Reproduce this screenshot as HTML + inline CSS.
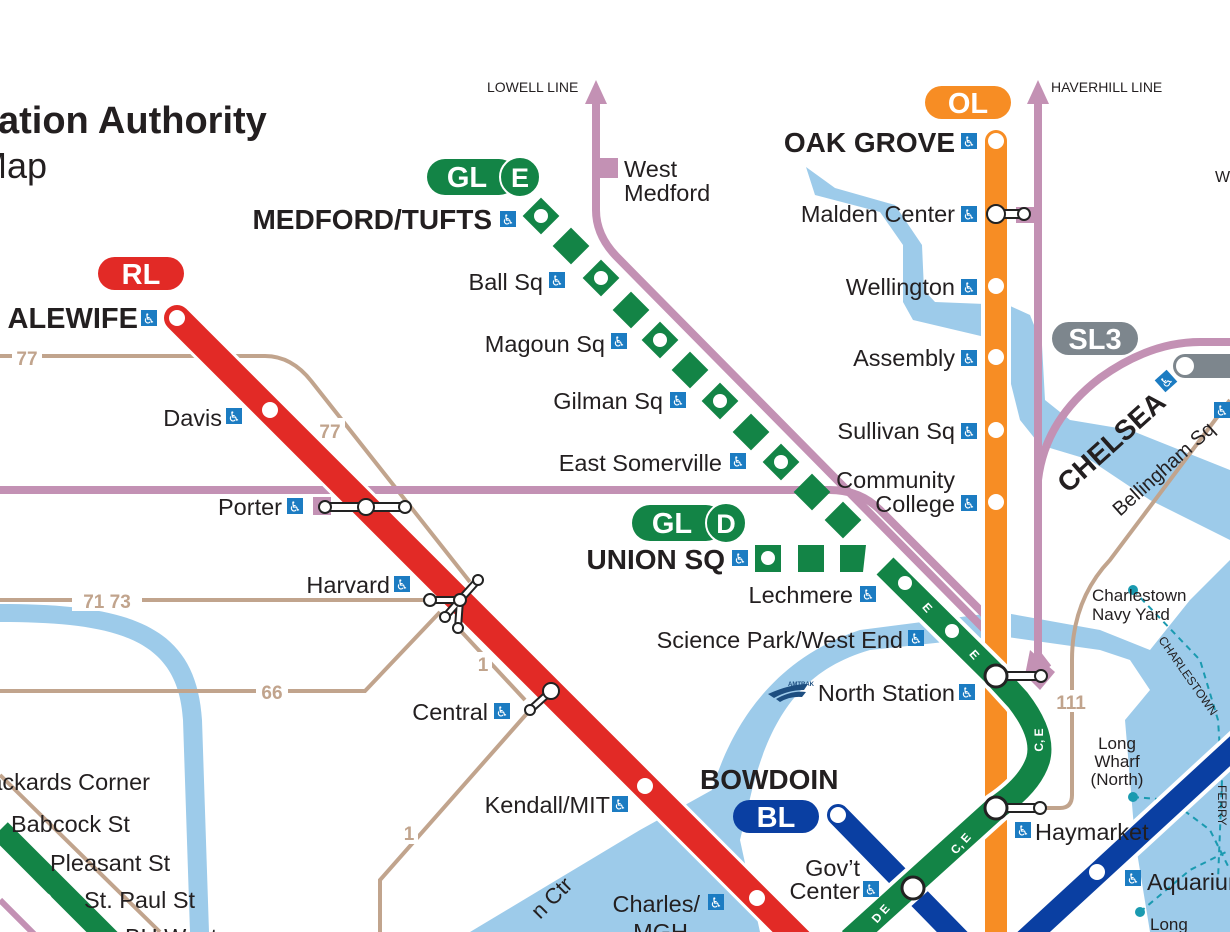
<!DOCTYPE html>
<html><head><meta charset="utf-8"><style>
html,body{margin:0;padding:0;background:#fff;}
svg{display:block;font-family:"Liberation Sans",Arial,sans-serif;}
</style></head><body>
<svg width="1230" height="932" viewBox="0 0 1230 932" xmlns="http://www.w3.org/2000/svg">
<defs>
<g id="acc"><rect width="16" height="16" fill="#1c7cc2"/><text x="8" y="13.5" font-size="14" fill="#fff" text-anchor="middle" font-family="DejaVu Sans">♿</text></g>
</defs>
<!-- water -->
<g fill="#9dcbea" stroke="none">
<path d="M806,167 L815,195 L880,212 L903,245 L903,302 L913,320 L985,337 L985,304 L935,302 L924,290 L922,245 L895,205 L835,188 Z"/>
<path d="M1008,305 L1030,315 L1042,345 L1045,400 L1070,420 L1130,430 L1230,470 L1230,540 L1150,500 L1090,460 L1040,445 L1020,420 L1010,380 Z"/>
<path d="M0,622 C120,622 178,640 183,720 L190,932 L209,932 L202,720 C196,625 130,604 0,604 Z"/>
<path d="M470,932 L640,830 L712,790 C730,730 770,660 860,630 L1000,612 L1100,630 L1150,650 L1190,600 L1230,560 L1230,932 L1150,932 L1135,840 L1125,720 L1150,690 L1130,660 L1100,650 L1000,636 L870,650 C800,670 770,720 752,790 L740,840 L760,932 Z"/>
</g>
<!-- tan bus lines -->
<g fill="none" stroke="#c1a48d" stroke-width="4">
<path d="M0,356 H265 Q292,356 312,382 L470,582"/>
<path d="M0,600 H440"/>
<path d="M0,691 H365 L440,612"/>
<path d="M458,628 L525,700"/>
<path d="M530,710 L380,880 V932"/>
<path d="M1045,808 H1060 Q1072,808 1072,795 V660 Q1072,600 1110,560 L1230,400"/>
<path d="M0,775 L160,932"/>
</g>
<g font-weight="bold" font-size="19" fill="#c1a48d" text-anchor="middle">
<rect x="12" y="345" width="30" height="22" fill="#fff"/><text x="27" y="365">77</text>
<rect x="313" y="418" width="32" height="22" fill="#fff"/><text x="330" y="438">77</text>
<rect x="72" y="589" width="70" height="22" fill="#fff"/><text x="107" y="608">71 73</text>
<rect x="256" y="680" width="32" height="22" fill="#fff"/><text x="272" y="699">66</text>
<rect x="474" y="652" width="18" height="24" fill="#fff"/><text x="483" y="671">1</text>
<rect x="400" y="820" width="18" height="24" fill="#fff"/><text x="409" y="840">1</text>
<rect x="1052" y="690" width="40" height="22" fill="#fff"/><text x="1071" y="709">111</text>
</g>
<!-- purple commuter rail -->
<g fill="none" stroke="#c391b4" stroke-width="8">
<path d="M596,100 V210 Q596,235 616,256 L985,630"/>
<path d="M0,490 H830 Q860,490 880,510 L985,615"/>
<path d="M1038,100 V655 L1048,668"/>
<path d="M1038,480 Q1045,420 1100,378 Q1150,342 1200,342 H1230"/>
</g>
<path d="M585,104 L596,80 L607,104 Z" fill="#c391b4"/>
<path d="M1027,104 L1038,80 L1049,104 Z" fill="#c391b4"/>
<rect x="597" y="158" width="21" height="20" fill="#c391b4"/>
<rect x="313" y="497" width="18" height="18" fill="#c391b4"/>
<rect x="1016" y="207" width="22" height="16" fill="#c391b4"/>
<path d="M1030,650 L1055,672 L1040,690 L1025,675 Z" fill="#c391b4"/>
<!-- teal ferry -->
<g fill="none" stroke="#1a9ab0" stroke-width="2" stroke-dasharray="6,5">
<path d="M1133,590 L1200,660 L1218,720 L1222,780 L1218,880"/>
<path d="M1133,797 L1170,800 L1210,830 L1230,870"/>
<path d="M1140,912 L1190,870 L1230,850"/>
</g>
<g fill="#1a9ab0"><circle cx="1133" cy="590" r="5"/><circle cx="1133" cy="797" r="5"/><circle cx="1140" cy="912" r="5"/></g>
<!-- left green B -->
<path d="M0,830 L110,940" stroke="#fff" stroke-width="30" fill="none"/>
<path d="M0,830 L110,940" stroke="#138446" stroke-width="22" fill="none"/>
<circle cx="10" cy="866" r="7" fill="#fff"/><circle cx="45" cy="900" r="7" fill="#fff"/>
<path d="M0,900 L35,935" stroke="#c391b4" stroke-width="6" fill="none"/>
<!-- red line -->
<path d="M177,318 L800,941" stroke="#fff" stroke-width="32" fill="none"/>
<path d="M177,318 L800,941" stroke="#e22a26" stroke-width="26" stroke-linecap="round" fill="none"/>
<g fill="#fff"><circle cx="177" cy="318" r="8"/><circle cx="270" cy="410" r="8"/><circle cx="645" cy="786" r="8"/><circle cx="757" cy="898" r="8"/></g>
<!-- gray SL -->
<path d="M1185,366 H1240" stroke="#7d868d" stroke-width="24" stroke-linecap="round"/>
<circle cx="1185" cy="366" r="9" fill="#fff"/>
<!-- blue line -->
<path d="M838,815 L960,940" stroke="#fff" stroke-width="30" fill="none"/>
<path d="M838,815 L960,940" stroke="#0a3fa2" stroke-width="22" stroke-linecap="round" fill="none"/>
<circle cx="838" cy="815" r="8" fill="#fff"/>
<path d="M1025,940 L1240,742" stroke="#fff" stroke-width="30" fill="none"/>
<path d="M1025,940 L1240,742" stroke="#0a3fa2" stroke-width="22" fill="none"/>
<circle cx="1097" cy="872" r="8" fill="#fff"/>
<!-- orange -->
<path d="M996,141 V940" stroke="#fff" stroke-width="30"/>
<path d="M996,141 V940" stroke="#f78d24" stroke-width="22" stroke-linecap="round"/>
<g fill="#fff"><circle cx="996" cy="141" r="8"/><circle cx="996" cy="286" r="8"/><circle cx="996" cy="357" r="8"/><circle cx="996" cy="430" r="8"/><circle cx="996" cy="502" r="8"/></g>
<!-- green solid -->
<path d="M885,566 L996,676 L1018,700 Q1045,735 1038,760 Q1030,785 996,808 L850,940" stroke="#fff" stroke-width="32" fill="none"/>
<path d="M885,566 L996,676 L1018,700 Q1045,735 1038,760 Q1030,785 996,808 L850,940" stroke="#138446" stroke-width="24" fill="none"/>
<g fill="#fff"><circle cx="905" cy="583" r="7"/><circle cx="952" cy="631" r="7"/></g>
<g fill="#fff" font-size="12" font-weight="bold" text-anchor="middle">
<text x="928" y="612" transform="rotate(48 928 607)">E</text>
<text x="975" y="659" transform="rotate(48 975 654)">E</text>
<text x="1038" y="745" transform="rotate(-90 1038 740)">C, E</text>
<text x="960" y="848" transform="rotate(-48 960 843)">C, E</text>
<text x="880" y="918" transform="rotate(-48 880 913)">D E</text>
</g>
<!-- green diamonds -->
<g fill="#138446">
<rect x="-13" y="-13" width="26" height="26" transform="translate(541,216) rotate(45)"/>
<rect x="-13" y="-13" width="26" height="26" transform="translate(571,246) rotate(45)"/>
<rect x="-13" y="-13" width="26" height="26" transform="translate(601,278) rotate(45)"/>
<rect x="-13" y="-13" width="26" height="26" transform="translate(631,310) rotate(45)"/>
<rect x="-13" y="-13" width="26" height="26" transform="translate(660,340) rotate(45)"/>
<rect x="-13" y="-13" width="26" height="26" transform="translate(690,370) rotate(45)"/>
<rect x="-13" y="-13" width="26" height="26" transform="translate(720,401) rotate(45)"/>
<rect x="-13" y="-13" width="26" height="26" transform="translate(751,432) rotate(45)"/>
<rect x="-13" y="-13" width="26" height="26" transform="translate(781,462) rotate(45)"/>
<rect x="-13" y="-13" width="26" height="26" transform="translate(812,492) rotate(45)"/>
<rect x="-13" y="-13" width="26" height="26" transform="translate(843,520) rotate(45)"/>
<rect x="755" y="545" width="26" height="27"/><rect x="798" y="545" width="26" height="27"/>
<path d="M840,545 H866 L863,572 H840 Z"/>
</g>
<g fill="#fff"><circle cx="541" cy="216" r="7"/><circle cx="601" cy="278" r="7"/><circle cx="660" cy="340" r="7"/><circle cx="720" cy="401" r="7"/><circle cx="781" cy="462" r="7"/><circle cx="768" cy="558" r="7"/></g>
<!-- interchanges -->
<g fill="#fff" stroke="#222" stroke-width="2">
<path d="M996,210 H1024 V218 H996 Z"/><circle cx="996" cy="214" r="9"/><circle cx="1024" cy="214" r="6"/>
<path d="M996,672 H1041 V680 H996 Z"/><circle cx="996" cy="676" r="11" stroke-width="3"/><circle cx="1041" cy="676" r="6"/>
<path d="M996,804 H1040 V812 H996 Z"/><circle cx="996" cy="808" r="11" stroke-width="3"/><circle cx="1040" cy="808" r="6"/>
<path d="M325,503 H405 V511 H325 Z"/><circle cx="325" cy="507" r="6"/><circle cx="366" cy="507" r="8"/><circle cx="405" cy="507" r="6"/>
<path d="M460,600 L478,580 M460,600 L430,600 M460,600 L445,617 M460,600 L458,628" stroke-width="8" stroke-linecap="round"/>
<path d="M460,600 L478,580 M460,600 L430,600 M460,600 L445,617 M460,600 L458,628" stroke="#fff" stroke-width="4"/>
<circle cx="478" cy="580" r="5"/><circle cx="430" cy="600" r="6"/><circle cx="445" cy="617" r="5"/><circle cx="458" cy="628" r="5"/><circle cx="460" cy="600" r="6"/>
<path d="M551,691 L530,710" stroke-width="8" stroke-linecap="round"/><path d="M551,691 L530,710" stroke="#fff" stroke-width="4"/>
<circle cx="551" cy="691" r="8"/><circle cx="530" cy="710" r="5"/>
<circle cx="913" cy="888" r="11" stroke-width="3"/>
</g>
<!-- pills -->
<rect x="925" y="86" width="86" height="33" rx="16.5" fill="#f78d24"/><text x="968" y="113" font-size="29" font-weight="bold" fill="#fff" text-anchor="middle">OL</text>
<rect x="98" y="257" width="86" height="33" rx="16.5" fill="#e22a26"/><text x="141" y="284" font-size="29" font-weight="bold" fill="#fff" text-anchor="middle">RL</text>
<rect x="733" y="800" width="86" height="33" rx="16.5" fill="#0a3fa2"/><text x="776" y="827" font-size="29" font-weight="bold" fill="#fff" text-anchor="middle">BL</text>
<rect x="1052" y="322" width="86" height="33" rx="16.5" fill="#7d868d"/><text x="1095" y="349" font-size="29" font-weight="bold" fill="#fff" text-anchor="middle">SL3</text>
<rect x="427" y="159" width="90" height="36" rx="18" fill="#138446"/><text x="467" y="187" font-size="29" font-weight="bold" fill="#fff" text-anchor="middle">GL</text>
<circle cx="520" cy="177" r="20" fill="#138446" stroke="#fff" stroke-width="2"/><text x="520" y="187" font-size="27" font-weight="bold" fill="#fff" text-anchor="middle">E</text>
<rect x="632" y="505" width="92" height="36" rx="18" fill="#138446"/><text x="672" y="533" font-size="29" font-weight="bold" fill="#fff" text-anchor="middle">GL</text>
<circle cx="726" cy="523" r="20" fill="#138446" stroke="#fff" stroke-width="2"/><text x="726" y="533" font-size="27" font-weight="bold" fill="#fff" text-anchor="middle">D</text>
<!-- labels -->
<g fill="#231f20" font-size="23.5">
<text x="-2" y="133" font-size="38" font-weight="bold">ation Authority</text>
<text x="-23" y="178" font-size="36">Map</text>
<text x="487" y="92" font-size="14">LOWELL LINE</text>
<text x="1051" y="92" font-size="14">HAVERHILL LINE</text>
<text x="624" y="177">West</text><text x="624" y="201">Medford</text>
<text x="1215" y="182" font-size="16">W</text>
<g text-anchor="end">
<text x="955" y="152" font-size="28" font-weight="bold">OAK GROVE</text>
<text x="955" y="222">Malden Center</text>
<text x="955" y="295">Wellington</text>
<text x="955" y="366">Assembly</text>
<text x="955" y="439">Sullivan Sq</text>
<text x="955" y="488">Community</text>
<text x="955" y="512">College</text>
<text x="492" y="229" font-size="28" font-weight="bold">MEDFORD/TUFTS</text>
<text x="543" y="290">Ball Sq</text>
<text x="605" y="352">Magoun Sq</text>
<text x="663" y="409">Gilman Sq</text>
<text x="722" y="471">East Somerville</text>
<text x="725" y="569" font-size="28" font-weight="bold">UNION SQ</text>
<text x="853" y="603">Lechmere</text>
<text x="903" y="648">Science Park/West End</text>
<text x="955" y="701">North Station</text>
<text x="860" y="876">Gov’t</text><text x="860" y="899">Center</text>
<text x="700" y="912">Charles/</text><text x="688" y="940">MGH</text>
<text x="610" y="813">Kendall/MIT</text>
<text x="488" y="720">Central</text>
<text x="390" y="593">Harvard</text>
<text x="282" y="515">Porter</text>
<text x="222" y="426">Davis</text>
<text x="138" y="328" font-size="29" font-weight="bold">ALEWIFE</text>
<text x="150" y="790">Packards Corner</text>
</g>
<text x="700" y="789" font-size="28" font-weight="bold">BOWDOIN</text>
<text x="1035" y="840">Haymarket</text>
<text x="11" y="832">Babcock St</text>
<text x="50" y="871">Pleasant St</text>
<text x="84" y="908">St. Paul St</text>
<text x="125" y="945">BU West</text>
<text x="1147" y="890">Aquarium</text>
<text x="1150" y="930" font-size="17">Long</text>
<text x="1092" y="601" font-size="17">Charlestown</text><text x="1092" y="620" font-size="17">Navy Yard</text>
<g font-size="17" text-anchor="middle"><text x="1117" y="749">Long</text><text x="1117" y="767">Wharf</text><text x="1117" y="785">(North)</text></g>
<text x="1068" y="494" font-size="28" font-weight="bold" transform="rotate(-42 1068 494)">CHELSEA</text>
<text x="1120" y="517" font-size="20" transform="rotate(-42 1120 517)">Bellingham Sq</text>
<text x="1158" y="640" font-size="12" transform="rotate(55 1158 640)">CHARLESTOWN</text>
<text x="1218" y="785" font-size="12" transform="rotate(90 1218 785)">FERRY</text>
<text x="540" y="920" font-size="22" transform="rotate(-45 540 920)">n Ctr</text>
</g>
<!-- amtrak -->
<g fill="#1d4e80"><path d="M768,694 Q790,684 808,684 L804,690 Q788,690 774,698 Z"/><path d="M776,699 Q792,690 806,692 L802,697 Q790,696 780,702 Z"/><text x="788" y="686" font-size="6" font-weight="bold">AMTRAK</text></g>
<!-- access icons -->
<use href="#acc" x="961" y="133"/><use href="#acc" x="961" y="206"/><use href="#acc" x="961" y="279"/><use href="#acc" x="961" y="350"/><use href="#acc" x="961" y="423"/><use href="#acc" x="961" y="495"/>
<use href="#acc" x="500" y="211"/><use href="#acc" x="549" y="272"/><use href="#acc" x="611" y="333"/><use href="#acc" x="670" y="392"/><use href="#acc" x="730" y="453"/>
<use href="#acc" x="732" y="550"/><use href="#acc" x="860" y="586"/><use href="#acc" x="908" y="630"/><use href="#acc" x="959" y="684"/>
<use href="#acc" x="1015" y="822"/><use href="#acc" x="863" y="881"/><use href="#acc" x="708" y="894"/><use href="#acc" x="612" y="796"/>
<use href="#acc" x="494" y="703"/><use href="#acc" x="394" y="576"/><use href="#acc" x="287" y="498"/><use href="#acc" x="226" y="408"/><use href="#acc" x="141" y="310"/>
<use href="#acc" x="1125" y="870"/>
<use href="#acc" x="1158" y="373" transform="rotate(-42 1166 381)"/>
<use href="#acc" x="1214" y="402"/>
</svg>
</body></html>
